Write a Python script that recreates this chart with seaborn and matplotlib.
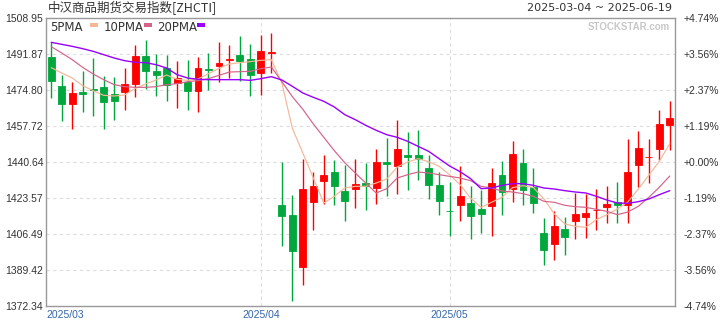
import matplotlib
matplotlib.use("Agg")
import matplotlib.pyplot as plt
import seaborn as sns
import pandas as pd
from matplotlib.patches import Rectangle

title = "中汉商品期货交易指数[ZHCTI]"
date_range = "2025-03-04 ~ 2025-06-19"
watermark = "STOCKSTAR.com"

opens = [1490.45, 1476.69, 1468.31, 1473.85, 1475.11, 1476.22, 1472.90, 1474.01, 1477.80, 1491.08,
         1483.81, 1485.23, 1478.12, 1478.43, 1474.48, 1484.76, 1486.34, 1489.19, 1491.40, 1489.50,
         1483.02, 1492.51, 1420.24, 1415.50, 1390.99, 1421.83, 1431.79, 1435.90, 1426.89, 1427.99,
         1430.68, 1428.47, 1440.80, 1438.90, 1443.96, 1443.96, 1437.80, 1429.73, 1417.56, 1420.40,
         1421.19, 1418.35, 1419.93, 1434.48, 1427.99, 1440.17, 1428.78, 1406.96, 1401.90, 1408.86,
         1412.81, 1414.71, 1417.71, 1419.45, 1421.67, 1420.40, 1439.38, 1442.86, 1446.97, 1458.35]
highs = [1497.72, 1481.75, 1478.59, 1483.65, 1489.82, 1481.28, 1480.96, 1485.23, 1496.14, 1498.51,
         1491.87, 1491.56, 1488.71, 1489.03, 1490.45, 1492.35, 1497.57, 1496.14, 1500.41, 1496.62,
         1500.89, 1501.83, 1440.64, 1424.99, 1442.07, 1435.90, 1443.96, 1441.59, 1439.22, 1442.07,
         1440.17, 1446.81, 1452.03, 1460.57, 1454.87, 1455.82, 1443.96, 1435.90, 1431.31, 1438.74,
         1429.26, 1427.36, 1437.80, 1441.12, 1450.60, 1446.81, 1437.80, 1414.08, 1417.40, 1414.55,
         1425.94, 1425.46, 1427.83, 1429.26, 1431.15, 1451.55, 1455.35, 1451.55, 1465.31, 1469.58]
lows = [1471.16, 1460.25, 1456.45, 1464.36, 1462.30, 1456.45, 1460.41, 1465.47, 1471.63, 1475.11,
        1471.79, 1469.42, 1466.26, 1465.47, 1464.36, 1474.95, 1478.59, 1480.49, 1478.91, 1471.95,
        1472.58, 1482.86, 1400.64, 1374.86, 1382.45, 1408.54, 1420.88, 1420.40, 1412.81, 1418.82,
        1417.87, 1420.88, 1424.67, 1425.62, 1427.52, 1432.26, 1423.09, 1415.66, 1405.70, 1412.81,
        1404.27, 1407.12, 1405.70, 1415.66, 1421.83, 1420.40, 1416.61, 1391.94, 1394.31, 1396.68,
        1404.27, 1404.75, 1408.54, 1411.86, 1411.86, 1411.86, 1428.78, 1430.84, 1441.59, 1446.33]
closes = [1478.91, 1468.31, 1473.37, 1472.90, 1474.80, 1469.26, 1469.74, 1477.64, 1491.08, 1483.97,
          1482.07, 1477.33, 1480.49, 1474.48, 1485.23, 1484.44, 1487.60, 1489.50, 1488.71, 1482.07,
          1493.30, 1492.82, 1415.18, 1398.58, 1427.83, 1429.26, 1434.48, 1429.42, 1422.30, 1430.21,
          1429.42, 1440.64, 1439.85, 1446.81, 1442.86, 1442.22, 1429.89, 1422.30, 1417.24, 1424.51,
          1415.18, 1416.13, 1430.68, 1426.41, 1444.44, 1427.52, 1421.35, 1399.06, 1410.28, 1405.22,
          1415.98, 1416.45, 1418.03, 1420.72, 1420.40, 1435.90, 1447.28, 1443.17, 1458.67, 1461.51]

ma5 = [1485.39, 1482.86, 1480.49, 1476.85, 1474.48, 1472.27, 1471.95, 1472.42, 1475.59, 1477.64,
       1479.54, 1481.91, 1479.86, 1479.38, 1480.01, 1482.54, 1485.07, 1487.13, 1487.76, 1488.24,
       1488.87, 1489.18, 1478.12, 1456.61, 1444.91, 1433.05, 1421.19, 1424.36, 1428.31, 1429.10,
       1429.10, 1430.68, 1432.58, 1438.27, 1440.64, 1442.22, 1440.80, 1438.59, 1434.63, 1429.89,
       1423.57, 1419.14, 1421.51, 1423.88, 1428.47, 1429.42, 1428.47, 1423.09, 1415.98, 1411.23,
       1410.12, 1409.65, 1413.29, 1415.66, 1418.35, 1421.67, 1427.83, 1434.32, 1440.96, 1449.34]
ma10 = [1495.35, 1492.35, 1489.18, 1485.55, 1482.39, 1479.70, 1477.33, 1476.38, 1476.06, 1476.06,
        1476.38, 1477.33, 1477.80, 1478.75, 1479.22, 1480.17, 1481.75, 1483.33, 1483.49, 1483.65,
        1484.92, 1485.71, 1478.75, 1471.63, 1465.63, 1458.67, 1452.34, 1446.02, 1440.33, 1435.42,
        1430.68, 1425.94, 1427.99, 1433.05, 1434.63, 1435.90, 1435.42, 1434.63, 1433.84, 1433.05,
        1431.79, 1429.10, 1428.31, 1426.89, 1426.41, 1425.62, 1424.36, 1421.98, 1421.51, 1420.09,
        1419.45, 1419.14, 1418.19, 1417.24, 1415.66, 1416.92, 1419.61, 1423.88, 1428.63, 1434.00]
ma20 = [1497.41, 1496.46, 1495.51, 1494.40, 1493.14, 1491.56, 1489.98, 1488.71, 1487.92, 1487.76,
        1486.81, 1485.23, 1482.07, 1480.49, 1479.86, 1479.70, 1479.70, 1479.70, 1479.70, 1479.38,
        1480.17, 1481.12, 1479.54, 1476.54, 1473.37, 1471.32, 1469.42, 1466.73, 1463.10, 1460.72,
        1458.04, 1455.66, 1453.61, 1452.34, 1450.45, 1448.07, 1445.70, 1442.22, 1438.74, 1436.06,
        1432.74, 1427.99, 1428.31, 1429.57, 1430.36, 1430.36, 1429.57, 1428.31, 1427.83, 1427.04,
        1426.41, 1425.94, 1424.36, 1422.62, 1421.19, 1421.03, 1421.83, 1423.09, 1425.15, 1427.04]

month_pos = [0, 20, 38]
month_labels = ["2025/03", "2025/04", "2025/05"]
price_ticks = [1508.95, 1491.87, 1474.80, 1457.72, 1440.64, 1423.57, 1406.49, 1389.42, 1372.34]
price_labels = ["1508.95", "1491.87", "1474.80", "1457.72", "1440.64", "1423.57", "1406.49", "1389.42", "1372.34"]
pct_labels = ["+4.74%", "+3.56%", "+2.37%", "+1.19%", "+0.00%", "-1.19%", "-2.37%", "-3.56%", "-4.74%"]
ma_names = ["5PMA", "10PMA", "20PMA"]

RED = "#ff0000"
GREEN = "#00a73c"
MA_COLORS = ["#f4b797", "#d5628a", "#9900ff"]
TXT = "#333333"

sns.set_style("white")
plt.rcParams["font.family"] = ["Liberation Sans", "DejaVu Sans"]

fig = plt.figure(figsize=(7.2, 3.2), dpi=100)
ax = fig.add_axes([46 / 720, 1 - 306 / 320, 629 / 720, 288 / 320])

n = len(opens)
idx = list(range(n))
df = pd.DataFrame({"i": idx, "o": opens, "h": highs, "l": lows, "c": closes,
                   "ma5": ma5, "ma10": ma10, "ma20": ma20})

# grid
for y in price_ticks[1:-1]:
    ax.axhline(y, color="#dcdcdc", lw=0.8, ls=(0, (3, 3)), zorder=0)
for p in month_pos[1:]:
    ax.axvline(p, color="#dcdcdc", lw=0.8, ls=(0, (3, 3)), zorder=0)

# candles
for _, r in df.iterrows():
    col = RED if r.c >= r.o else GREEN
    ax.vlines(r.i, r.l, r.h, color=col, lw=1.0, zorder=2)
    lo = min(r.o, r.c)
    ht = abs(r.c - r.o)
    ax.add_patch(Rectangle((r.i - 0.33, lo), 0.66, max(ht, 0.05), facecolor=col,
                           edgecolor=col, lw=0.6, zorder=3))

for col_name, color, lw in zip(["ma5", "ma10", "ma20"], MA_COLORS, [0.85, 0.85, 1.0]):
    sns.lineplot(data=df, x="i", y=col_name, ax=ax, color=color, lw=lw, zorder=4)

ax.set_xlim(-0.5, n - 0.5)
ax.set_ylim(price_ticks[-1], price_ticks[0])
ax.set_xlabel("")
ax.set_ylabel("")

ax.set_yticks(price_ticks)
ax.set_yticklabels(price_labels, fontsize=7.5, color=TXT)
xt = [month_pos[0] - 0.5] + month_pos[1:]
ax.set_xticks(xt)
ax.set_xticklabels(month_labels, fontsize=7.5, color="#3366aa")
ax.get_xticklabels()[0].set_ha("left")
ax.tick_params(axis="y", length=0, pad=2)
ax.tick_params(axis="x", length=0, pad=3)

for s in ax.spines.values():
    s.set_color("#999999")
    s.set_linewidth(1.0)

ax2 = ax.twinx()
ax2.set_ylim(price_ticks[-1], price_ticks[0])
ax2.set_yticks(price_ticks)
ax2.set_yticklabels(pct_labels, fontsize=7.5, color=TXT)
ax2.tick_params(axis="y", length=0, pad=6)
for s in ax2.spines.values():
    s.set_visible(False)

# title and date range
fig.text(48 / 720, 1 - 8 / 320, title, fontsize=9, color=TXT, va="center", ha="left",
         family=["Noto Sans CJK SC", "DejaVu Sans"])
fig.text(672 / 720, 1 - 8 / 320, date_range, fontsize=8, color=TXT, va="center", ha="right",
         family=["DejaVu Sans"])

# legend
leg_x = [50, 104, 157]
sw_x = [90, 144, 197]
for name, lx, sx, c in zip(ma_names, leg_x, sw_x, MA_COLORS):
    fig.text(lx / 720, 1 - 27.5 / 320, name, fontsize=8.5, color=TXT, va="center", ha="left",
             family=["DejaVu Sans"])
    fig.patches.append(Rectangle((sx / 720, 1 - 27 / 320), 8 / 720, 4 / 320,
                                 transform=fig.transFigure, facecolor=c, edgecolor="none"))

fig.text(670 / 720, 1 - 27.5 / 320, watermark, fontsize=7, color="#c8c8c8",
         fontweight="bold", va="center", ha="right")

fig.savefig("out.png", dpi=100)
